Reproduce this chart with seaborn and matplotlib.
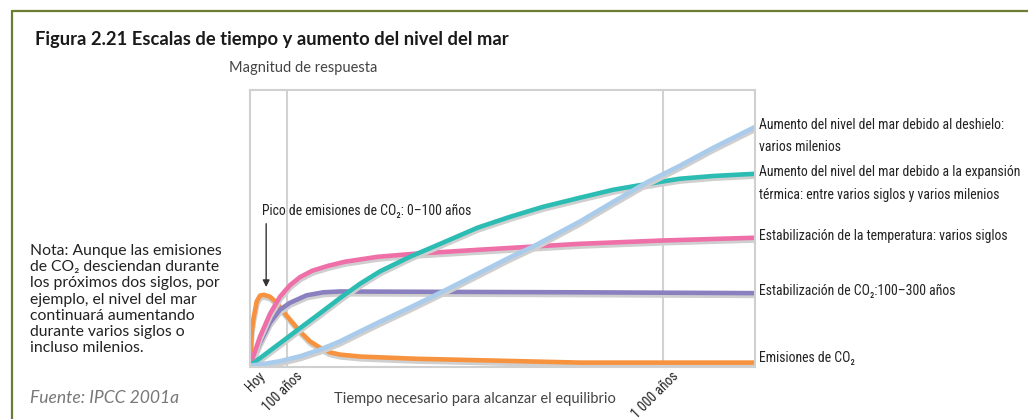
import matplotlib
matplotlib.use("Agg")
from matplotlib import pyplot as plt
from matplotlib.lines import Line2D
from matplotlib.transforms import ScaledTranslation
import matplotlib.patheffects as pe
import seaborn as sns
import pandas as pd

# Data (relative time 0-100, response magnitude 0-100)
emis_t = [0, 0.33, 0.65, 1.33, 1.98, 2.77, 3.96, 5.29, 6.53, 7.92, 9.9, 11.88, 13.86, 15.84, 17.82, 21.78, 32.7, 65.3, 100]
emis_y = [0, 12.0, 16.7, 23.3, 25.4, 25.7, 25.0, 22.8, 19.7, 16.7, 12.4, 8.8, 6.5, 4.8, 4.0, 3.3, 2.5, 1.1, 1.1]

co2_t = [0, 1.98, 3.96, 5.94, 7.92, 11.2, 14.5, 17.8, 32.7, 65.3, 100]
co2_y = [0, 8.3, 15.6, 20.3, 22.8, 25.5, 26.6, 26.9, 26.8, 26.6, 26.3]

temp_t = [0, 1.98, 3.96, 5.94, 7.92, 9.9, 12.28, 15.45, 18.81, 25.35, 32.67, 44.95, 65.35, 81.78, 100]
temp_y = [0, 10.5, 18.8, 25.0, 29.2, 32.1, 34.4, 36.2, 37.7, 39.5, 40.6, 42.0, 44.2, 45.4, 46.4]

exp_t = [0, 5.94, 9.9, 13.86, 17.82, 21.78, 25.74, 31.68, 38.2, 45.0, 51.5, 58.0, 65.3, 71.9, 78.6, 85.1, 91.7, 100]
exp_y = [0, 8.15, 13.6, 19.0, 24.5, 29.7, 34.2, 39.5, 44.6, 50.0, 54.0, 57.6, 60.9, 63.8, 65.9, 67.8, 68.8, 69.6]

ice_t = [0, 1.98, 5.94, 9.9, 13.86, 17.82, 21.78, 25.35, 31.7, 37.96, 44.95, 51.49, 56.04, 65.35, 71.9, 78.8, 85.1, 91.7, 100]
ice_y = [0, 0.4, 1.6, 3.4, 5.8, 8.8, 12.4, 15.6, 21.1, 26.7, 33.2, 39.3, 43.2, 52.3, 59.4, 66.7, 72.5, 79.0, 86.6]

tick_pos = [0, 7.33, 81.8]
tick_labels = ["Hoy", "100 años", "1 000 años"]

series = ["emisiones", "co2", "temperatura", "expansion", "deshielo"]
colors = {
    "emisiones": "#f7923e",
    "co2": "#8a80c0",
    "temperatura": "#ef6fa8",
    "expansion": "#2bbcb3",
    "deshielo": "#a9cbec",
}

df = pd.concat([
    pd.DataFrame({"t": emis_t, "y": emis_y, "serie": "emisiones"}),
    pd.DataFrame({"t": co2_t, "y": co2_y, "serie": "co2"}),
    pd.DataFrame({"t": temp_t, "y": temp_y, "serie": "temperatura"}),
    pd.DataFrame({"t": exp_t, "y": exp_y, "serie": "expansion"}),
    pd.DataFrame({"t": ice_t, "y": ice_y, "serie": "deshielo"}),
], ignore_index=True)

sns.set_theme(style="white")
plt.rcParams["font.family"] = ["Lato", "DejaVu Sans"]
narrow = ["Roboto Condensed", "DejaVu Sans"]
nsize = 9.9

fig = plt.figure(figsize=(10.28, 4.19), dpi=100)
ax = fig.add_axes([0.2432, 0.1241, 0.4912, 0.6611])

for x in tick_pos[1:]:
    ax.axvline(x, color="#d2d2d2", lw=1.5, zorder=0)

sns.lineplot(data=df, x="t", y="y", hue="serie", hue_order=series,
             palette=colors, linewidth=3.3, legend=False, ax=ax, sort=False)
for line in ax.lines[2:]:
    line.set_solid_capstyle("butt")
    line.set_solid_joinstyle("round")
    line.set_path_effects([
        pe.SimpleLineShadow(offset=(0.4, -2.0), shadow_color="#cfcfcf", alpha=1.0),
        pe.Normal(),
    ])

ax.set_xlim(0, 100)
ax.set_ylim(-0.5, 100)
ax.set_yticks([])
ax.set_xticks(tick_pos)
ax.set_xticklabels(tick_labels, rotation=45, ha="right", va="top",
                   rotation_mode="anchor", family=narrow, fontsize=nsize, color="#222222")
ax.tick_params(axis="x", length=0, pad=5)
shift = ScaledTranslation(0.08, 0.05, fig.dpi_scale_trans)
for lab in ax.get_xticklabels():
    lab.set_transform(lab.get_transform() + shift)
ax.set_xlabel("")
ax.set_ylabel("")
for s in ax.spines.values():
    s.set_color("#d0d0d0")
    s.set_linewidth(1.5)

# arrow to the emission peak
ax.annotate("", xy=(3.2, 27.5), xytext=(3.2, 52.5),
            arrowprops=dict(arrowstyle="-|>", color="#333333", lw=1.0, mutation_scale=10))
ax.text(2.4, 54.5, "Pico de emisiones de CO₂: 0–100 años", family=narrow,
        fontsize=nsize, color="#222222", va="baseline")

# frame of the figure
fig.add_artist(Line2D([0.0117, 1.0], [0.9737, 0.9737], color="#6b7d32", lw=1.6))
fig.add_artist(Line2D([0.0117, 0.0117], [0.0, 0.9737], color="#6b7d32", lw=1.6))

fig.text(35 / 1028, 1 - 40 / 419, "Figura 2.21 Escalas de tiempo y aumento del nivel del mar",
         fontsize=13.2, fontweight="bold", color="#1a1a1a", va="center")
fig.text(303 / 1028, 1 - 68 / 419, "Magnitud de respuesta", fontsize=10.5,
         color="#444444", ha="center", va="center")
fig.text(475 / 1028, 1 - 399 / 419, "Tiempo necesario para alcanzar el equilibrio",
         fontsize=10.5, color="#444444", ha="center", va="center")

right_labels = [
    (125, "Aumento del nivel del mar debido al deshielo:"),
    (147, "varios milenios"),
    (172, "Aumento del nivel del mar debido a la expansión"),
    (195, "térmica: entre varios siglos y varios milenios"),
    (236, "Estabilización de la temperatura: varios siglos"),
    (291, "Estabilización de CO₂:100–300 años"),
    (358, "Emisiones de CO₂"),
]
for py, txt in right_labels:
    fig.text(759 / 1028, 1 - py / 419, txt, family=narrow, fontsize=nsize,
             color="#222222", va="center")

nota = ("Nota: Aunque las emisiones\nde CO₂ desciendan durante\nlos próximos dos siglos, por\n"
        "ejemplo, el nivel del mar\ncontinuará aumentando\ndurante varios siglos o\nincluso milenios.")
fig.text(30 / 1028, 1 - 244 / 419, nota, fontsize=11.3, color="#222222",
         va="top", linespacing=1.2)
fig.text(30 / 1028, 1 - 398 / 419, "Fuente: IPCC 2001a", fontsize=12.6,
         style="italic", color="#777777", va="center")

fig.savefig("out.png", dpi=100)
